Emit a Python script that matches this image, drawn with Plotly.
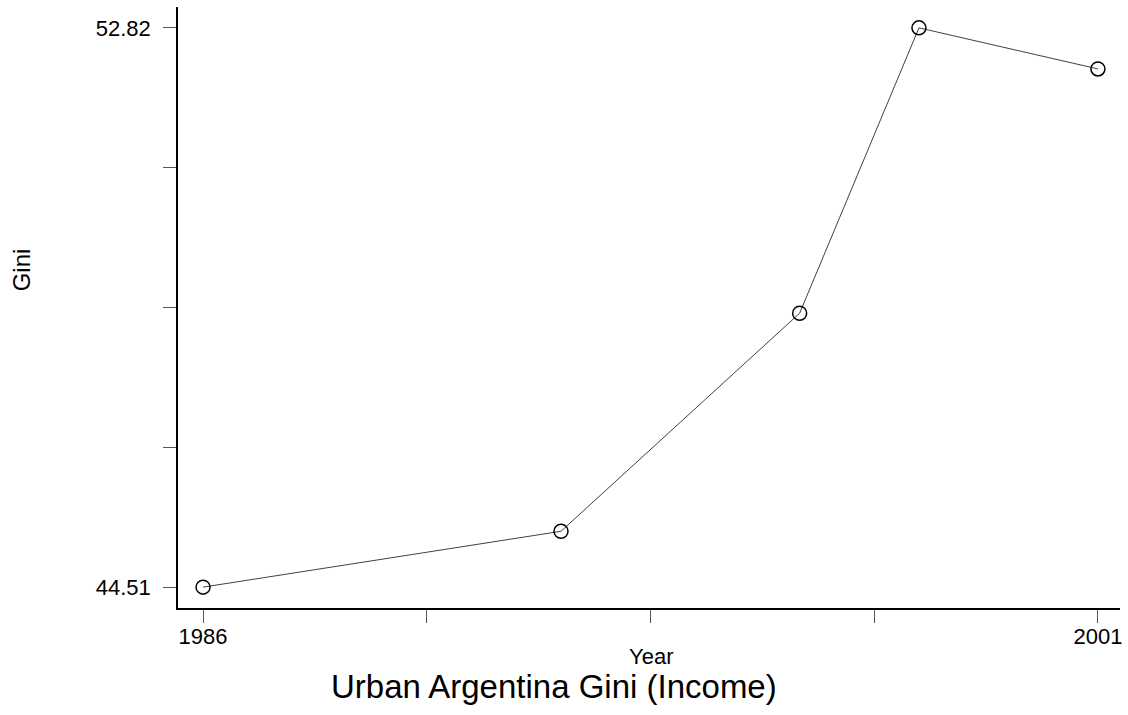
import plotly.graph_objects as go

years = [1986, 1992, 1996, 1998, 2001]
gini = [44.51, 45.34, 48.58, 52.82, 52.21]

x_tickvals = [1986, 1989.75, 1993.5, 1997.25, 2001]
x_ticktext = ["1986", "", "", "", "2001"]
y_tickvals = [44.51, 46.5875, 48.665, 50.7425, 52.82]
y_ticktext = ["44.51", "", "", "", "52.82"]

W, H = 1128, 715
L, R, T, B = 178, 6, 7, 107
plot_h = H - T - B

def py(p):
    return (H - B - p) / plot_h

FONT = "Arial, Liberation Sans, sans-serif"

fig = go.Figure()
fig.add_trace(go.Scatter(
    x=years, y=gini, mode="lines+markers",
    line=dict(color="#404040", width=1),
    marker=dict(symbol="circle-open", size=14, color="black", line=dict(width=1.5, color="black")),
    showlegend=False,
))

fig.update_layout(
    width=W, height=H,
    margin=dict(l=L, r=R, t=T, b=B),
    paper_bgcolor="white", plot_bgcolor="white",
    font=dict(family=FONT, color="black", size=22),
    xaxis=dict(range=[1985.58, 2001.37], tickvals=x_tickvals, ticktext=x_ticktext,
               showgrid=False, zeroline=False, showline=True, linecolor="black", linewidth=1.5,
               ticks="outside", ticklen=13, tickwidth=1, tickcolor="#555",
               tickfont=dict(size=22), ticklabelstandoff=-5),
    yaxis=dict(range=[44.20, 53.13], tickvals=y_tickvals, ticktext=y_ticktext,
               showgrid=False, zeroline=False, showline=True, linecolor="black", linewidth=1.5,
               ticks="outside", ticklen=13, tickwidth=1, tickcolor="#555",
               tickfont=dict(size=22), ticklabelstandoff=8),
    annotations=[
        dict(text="Year", xref="paper", yref="paper", x=(652 - L) / (W - L - R), y=py(656),
             xanchor="center", yanchor="middle", showarrow=False, font=dict(size=22)),
        dict(text="Gini", xref="paper", yref="paper", x=(21 - L) / (W - L - R), y=py(270),
             xanchor="center", yanchor="middle", showarrow=False, textangle=-90, font=dict(size=24)),
        dict(text="Urban Argentina Gini (Income)", xref="paper", yref="paper",
             x=(555 - L) / (W - L - R), y=py(687), xanchor="center", yanchor="middle",
             showarrow=False, font=dict(size=33)),
    ],
)

fig.write_html("out.html", config={"displayModeBar": False},
               post_script="document.body.style.margin='0';document.body.style.overflow='hidden';")
